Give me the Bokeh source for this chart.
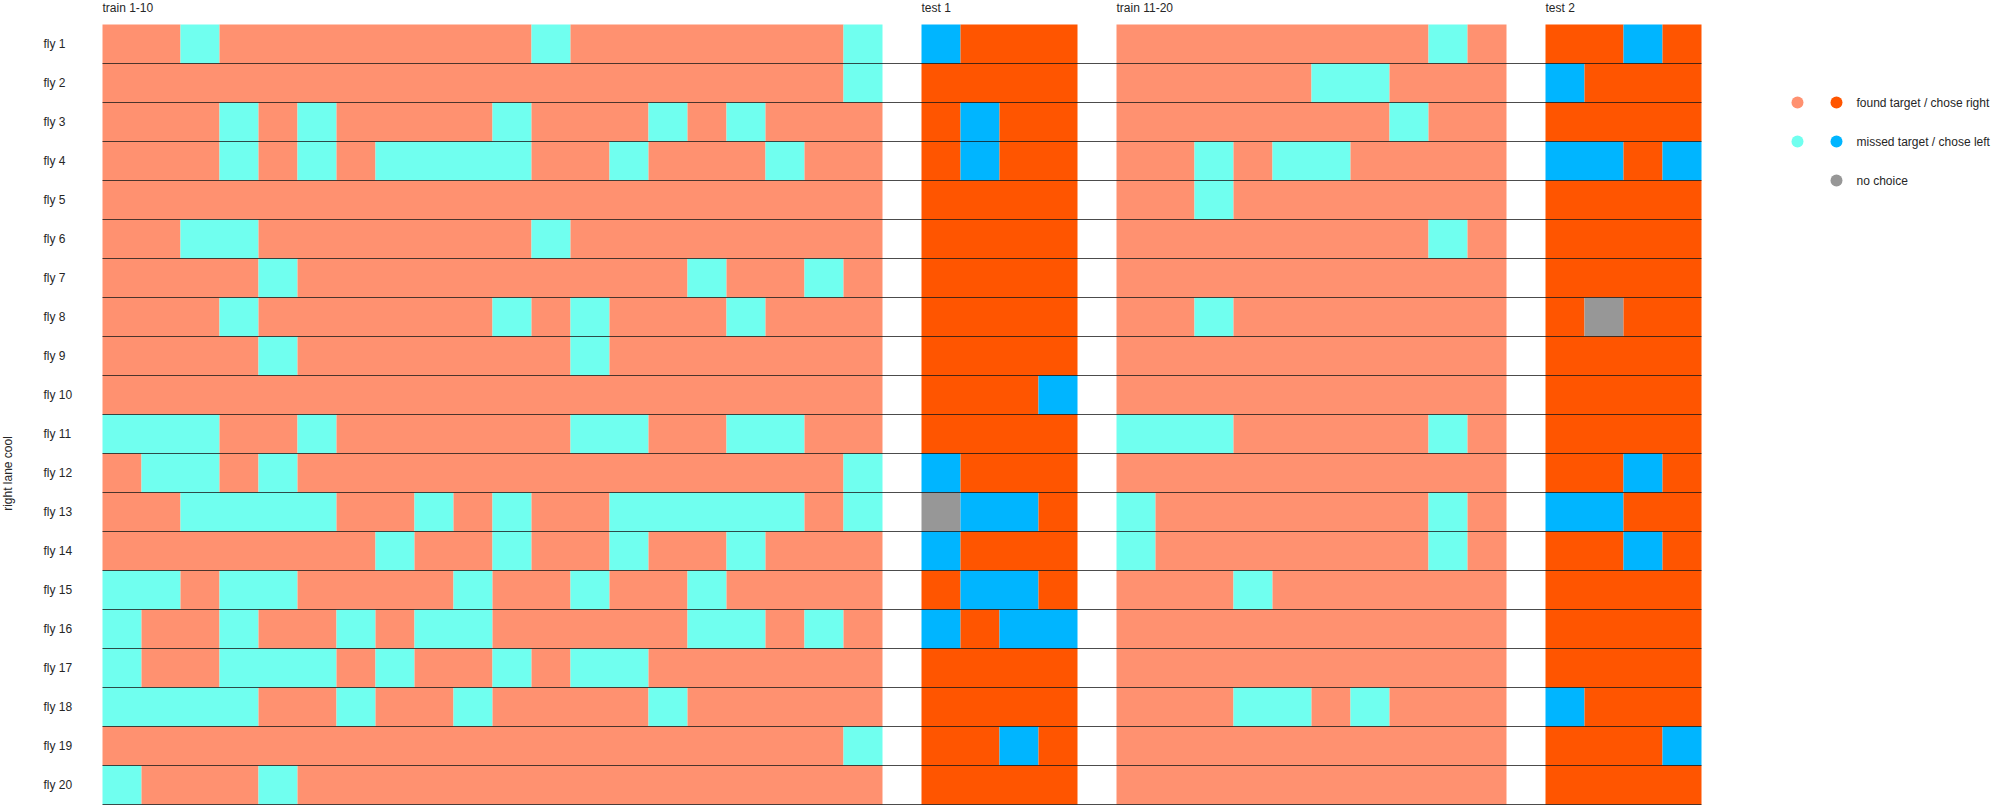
import numpy as np
from bokeh.plotting import figure
from bokeh.models import ColumnDataSource, Range1d
from bokeh.core.properties import value
from bokeh.embed import file_html
from bokeh.resources import INLINE

# ---------------- data ----------------
flies = [f"fly {i}" for i in range(1, 21)]
phase_labels = ["train 1-10", "test 1", "train 11-20", "test 2"]
train1_len = 20
train2_len = 10

# trial indices where the fly missed the target (training phases)
train1_missed = [
    [2, 11, 19],
    [19],
    [3, 5, 10, 14, 16],
    [3, 5, 7, 8, 9, 10, 13, 17],
    [],
    [2, 3, 11],
    [4, 15, 18],
    [3, 10, 12, 16],
    [4, 12],
    [],
    [0, 1, 2, 5, 12, 13, 16, 17],
    [1, 2, 4, 19],
    [2, 3, 4, 5, 8, 10, 13, 14, 15, 16, 17, 19],
    [7, 10, 13, 16],
    [0, 1, 3, 4, 9, 12, 15],
    [0, 3, 6, 8, 9, 15, 16, 18],
    [0, 3, 4, 5, 7, 10, 12, 13],
    [0, 1, 2, 3, 6, 9, 14],
    [19],
    [0, 4],
]
train2_missed = [
    [8], [5, 6], [7], [2, 4, 5], [2], [8], [], [2], [], [],
    [0, 1, 2, 8], [], [0, 8], [0, 8], [3], [], [], [3, 4, 6], [], [],
]
# test phases: R = chose right, L = chose left, N = no choice
test1 = ["LRRR", "RRRR", "RLRR", "RLRR", "RRRR", "RRRR", "RRRR", "RRRR", "RRRR", "RRRL",
         "RRRR", "LRRR", "NLLR", "LRRR", "RLLR", "LRLL", "RRRR", "RRRR", "RRLR", "RRRR"]
test2 = ["RRLR", "LRRR", "RRRR", "LLRL", "RRRR", "RRRR", "RRRR", "RNRR", "RRRR", "RRRR",
         "RRRR", "RRLR", "LLRR", "RRLR", "RRRR", "RRRR", "RRRR", "LRRR", "RRRL", "RRRR"]

legend_labels = ["found target / chose right", "missed target / chose left", "no choice"]
y_title = "right lane cool"

# ---------------- styling / layout ----------------
W, H = 1993, 805
CELL = 39.0
X0, Y0 = 102.0, 24.0
TRAIN_R, TRAIN_L = "#FF9170", "#70FFEF"
TEST_R, TEST_L, NOCH = "#FF5500", "#00B5FF", "#979797"
TXT = "#262626"
FONT = "Liberation Sans"

phase_start = [0, train1_len + 1, train1_len + 1 + 4 + 1, train1_len + 1 + 4 + 1 + train2_len + 1]
ncols = phase_start[3] + 4


def px_x(px):
    return (px - X0) / CELL


def px_y(py):
    return (py - Y0) / CELL


p = figure(width=W, height=H, output_backend="svg", toolbar_location=None,
           x_range=Range1d(px_x(0), px_x(W)), y_range=Range1d(px_y(H), px_y(0)),
           min_border=0, x_axis_type=None, y_axis_type=None)
p.outline_line_color = None
p.grid.visible = False
p.background_fill_color = "white"
p.border_fill_color = "white"

left, right, top, bottom, color = [], [], [], [], []
test_col = {"R": TEST_R, "L": TEST_L, "N": NOCH}

for r in range(len(flies)):
    cells = []
    for i in range(train1_len):
        cells.append((phase_start[0] + i, TRAIN_L if i in train1_missed[r] else TRAIN_R))
    for i, ch in enumerate(test1[r]):
        cells.append((phase_start[1] + i, test_col[ch]))
    for i in range(train2_len):
        cells.append((phase_start[2] + i, TRAIN_L if i in train2_missed[r] else TRAIN_R))
    for i, ch in enumerate(test2[r]):
        cells.append((phase_start[3] + i, test_col[ch]))
    # merge contiguous cells of the same colour into one block (avoids seams)
    runs = []
    for col, c in cells:
        if runs and runs[-1][2] == c and runs[-1][1] == col:
            runs[-1][1] = col + 1
        else:
            runs.append([col, col + 1, c])
    for l, rt, c in runs:
        left.append(l)
        right.append(rt)
        top.append(r)
        bottom.append(r + 1)
        color.append(c)

src = ColumnDataSource(dict(left=left, right=right, top=top, bottom=bottom, color=color))
p.quad(left="left", right="right", top="top", bottom="bottom", fill_color="color",
       line_color=None, source=src)

# row separator lines
ys = [r + 1 for r in range(len(flies))]
p.segment(x0=[0] * len(ys), x1=[ncols] * len(ys), y0=ys, y1=ys,
          line_color="black", line_alpha=0.7, line_width=1)

# fly labels
p.text(x=[px_x(43)] * len(flies), y=[r + 0.5 for r in range(len(flies))], text=flies,
       text_font=value(FONT), text_font_size=value("12px"), text_color=TXT,
       text_align="left", text_baseline="middle")

# phase labels
p.text(x=phase_start, y=[px_y(7)] * 4, text=phase_labels,
       text_font=value(FONT), text_font_size=value("12px"), text_color=TXT,
       text_align="left", text_baseline="middle")

# y title
p.text(x=[px_x(7)], y=[px_y(473)], text=[y_title], angle=np.pi / 2,
       text_font=value(FONT), text_font_size=value("12px"), text_color=TXT,
       text_align="center", text_baseline="middle")

# legend
leg_y = [px_y(102), px_y(141), px_y(180)]
p.scatter(x=[px_x(1797)] * 2, y=leg_y[:2], size=12, marker="circle",
          fill_color=[TRAIN_R, TRAIN_L], line_color=None)
p.scatter(x=[px_x(1836)] * 3, y=leg_y, size=12, marker="circle",
          fill_color=[TEST_R, TEST_L, NOCH], line_color=None)
p.text(x=[px_x(1856)] * 3, y=leg_y, text=legend_labels,
       text_font=value(FONT), text_font_size=value("12px"), text_color=TXT,
       text_align="left", text_baseline="middle")

open("out.html", "w").write(file_html(p, INLINE))
